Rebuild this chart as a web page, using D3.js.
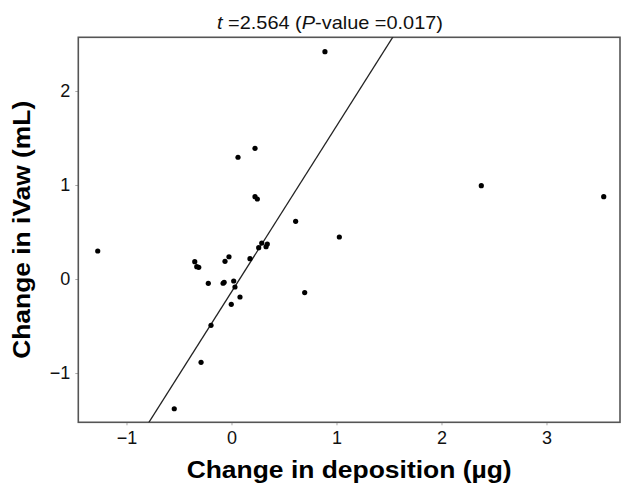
<!DOCTYPE html>
<html><head><meta charset="utf-8">
<script src="https://cdn.jsdelivr.net/npm/d3@7"></script>
<style>body{margin:0;background:#fff}</style>
</head><body>
<svg id="c" width="621" height="485"></svg>
<script>
const xVals = [-1.274,0.890,0.224,0.062,0.224,0.246,0.611,1.027,0.288,0.259,0.341,0.329,0.176,-0.024,-0.062,-0.350,-0.331,-0.312,-0.221,-0.080,-0.070,0.021,0.033,0.081,-0.002,0.697,-0.195,-0.290,-0.545,2.379,3.545];
const yVals = [0.298,2.418,1.390,1.295,0.876,0.851,0.614,0.447,0.383,0.333,0.372,0.344,0.216,0.237,0.188,0.184,0.131,0.124,-0.046,-0.045,-0.035,-0.021,-0.085,-0.191,-0.269,-0.144,-0.493,-0.886,-1.380,0.993,0.876];
const fitIntercept = -0.137, fitSlope = 1.764;
const xTicks = [-1,0,1,2,3];
const yTicks = [-1,0,1,2];
const titleParts = [["t",true],[" =2.564 (",false],["P",true],["-value =0.017)",false]];
const xLabel = "Change in deposition (µg)";
const yLabel = "Change in iVaw (mL)";

const L=78.3,R=620,T=37.3,B=422.3;
const svg=d3.select("#c");
const x=d3.scaleLinear().domain([-1.459,3.700]).range([L,R]);
const y=d3.scaleLinear().domain([-1.524,2.571]).range([B,T]);
const font="Liberation Sans, Arial, Helvetica, sans-serif";

svg.append("defs").append("clipPath").attr("id","cp").append("rect")
  .attr("x",L).attr("y",T).attr("width",R-L).attr("height",B-T);

// axes
const xa=svg.append("g").attr("transform",`translate(0,${B})`)
  .call(d3.axisBottom(x).tickValues(xTicks).tickSize(3).tickPadding(6).tickFormat(d3.format("d")));
const ya=svg.append("g").attr("transform",`translate(${L},0)`)
  .call(d3.axisLeft(y).tickValues(yTicks).tickSize(3).tickPadding(5).tickFormat(d3.format("d")));
[xa,ya].forEach(a=>{
  a.select(".domain").remove();
  a.selectAll(".tick line").attr("stroke","#aaa");
  a.selectAll(".tick text").attr("font-family",font).attr("font-size",18).attr("fill","#111");
});

// frame
svg.append("rect").attr("x",L).attr("y",T).attr("width",R-L).attr("height",B-T)
  .attr("fill","none").attr("stroke","#555").attr("stroke-width",1.6);

// fit line
const xd=x.domain();
svg.append("line").attr("clip-path","url(#cp)")
  .attr("x1",x(xd[0])).attr("y1",y(fitIntercept+fitSlope*xd[0]))
  .attr("x2",x(xd[1])).attr("y2",y(fitIntercept+fitSlope*xd[1]))
  .attr("stroke","#222").attr("stroke-width",1.3);

// points
svg.append("g").selectAll("circle").data(xVals.map((v,i)=>[v,yVals[i]])).join("circle")
  .attr("cx",d=>x(d[0])).attr("cy",d=>y(d[1])).attr("r",2.6).attr("fill","#000");

// title
const tt=svg.append("text").attr("x",217).attr("y",29).attr("font-family",font).attr("font-size",19)
  .attr("textLength",226).attr("lengthAdjust","spacingAndGlyphs").attr("fill","#111");
tt.selectAll("tspan").data(titleParts).join("tspan").text(d=>d[0]).attr("font-style",d=>d[1]?"italic":"normal");

// axis titles
svg.append("text").attr("x",(L+R)/2).attr("y",478).attr("text-anchor","middle")
  .attr("font-family",font).attr("font-weight","bold").attr("font-size",23)
  .attr("textLength",325).attr("lengthAdjust","spacingAndGlyphs").text(xLabel);
svg.append("text").attr("transform",`translate(30,${(T+B)/2}) rotate(-90)`).attr("text-anchor","middle")
  .attr("font-family",font).attr("font-weight","bold").attr("font-size",23)
  .attr("textLength",258).attr("lengthAdjust","spacingAndGlyphs").text(yLabel);
</script>
</body></html>
